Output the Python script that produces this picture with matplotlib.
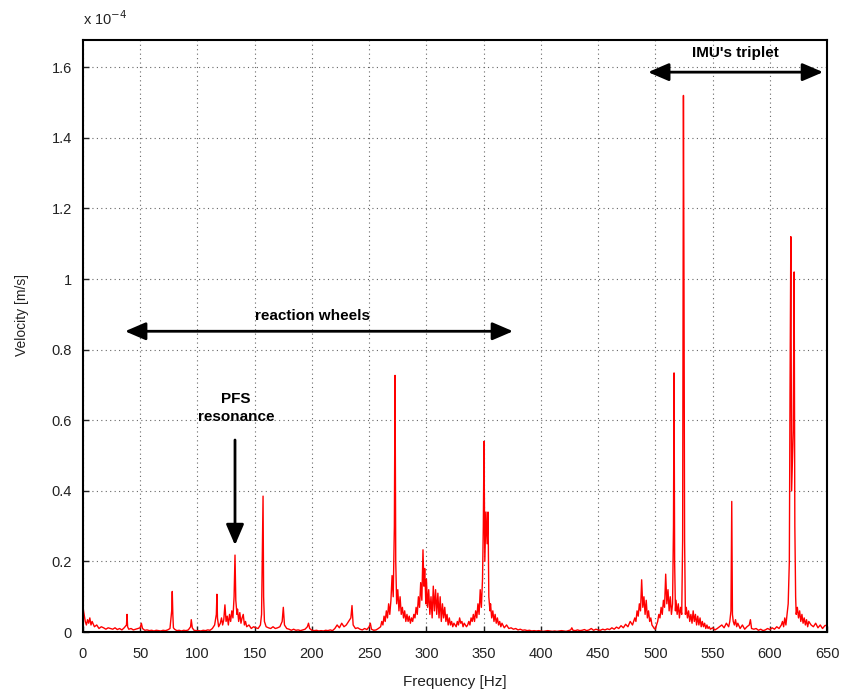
import matplotlib
matplotlib.use("Agg")
from matplotlib import pyplot as plt

# spectrum, velocity in units of 1e-4 m/s
freq_hz = [
    0, 1, 2, 3, 4, 5, 6, 7, 8, 10, 12, 14, 16, 18, 20, 22, 24, 26, 28, 30,
    32, 34, 36, 38, 38.5, 39, 40, 42, 44, 46, 48, 50, 51, 52, 54, 56, 58, 60, 62, 64,
    66, 68, 70, 72, 74, 76, 77.5, 78, 78.5, 79, 80, 82, 84, 86, 88, 90, 92, 94, 94.6, 95.5,
    97, 99, 101, 103, 105, 107, 109, 111, 113, 115, 116.5, 117, 117.5, 118.5, 120, 121, 122, 123, 124, 125,
    126, 127, 128, 129, 130, 131, 132, 132.8, 133.5, 134.5, 135, 136, 137, 138, 139, 140, 141, 142, 143, 145,
    147, 149, 151, 153, 155, 156, 156.8, 157.3, 157.8, 158.5, 160, 162, 164, 166, 168, 170, 172, 174, 175, 176,
    178, 180, 182, 184, 186, 188, 190, 192, 194, 196, 197, 198, 200, 202, 204, 206, 208, 210, 212, 214,
    216, 218, 220, 222, 224, 226, 228, 230, 232, 234, 235, 236, 238, 240, 242, 244, 246, 248, 250, 251,
    252, 254, 256, 258, 260, 261, 262, 263, 264, 265, 266, 267, 268, 269, 270, 271, 272, 272.6, 273.2, 274,
    275, 276, 277, 278, 279, 280, 281, 282, 283, 284, 285, 286, 287, 288, 289, 290, 291, 292, 293, 294,
    295, 296, 297, 297.8, 298.5, 299.5, 300, 301, 302, 303, 304, 305, 306, 307, 308, 309, 310, 311, 312, 313,
    314, 315, 316, 317, 318, 319, 320, 321, 322, 323, 324, 325, 326, 327, 328, 329, 330, 331, 332, 333,
    334, 335, 336, 337, 338, 339, 340, 341, 342, 343, 344, 345, 346, 347, 348, 349, 349.7, 350.3, 351, 352,
    353, 353.8, 354.5, 355.5, 356, 357, 358, 359, 360, 361, 362, 363, 364, 365, 366, 368, 370, 372, 374, 376,
    378, 380, 382, 384, 386, 388, 390, 392, 394, 396, 398, 400, 402, 404, 406, 408, 410, 412, 414, 416,
    418, 420, 422, 424, 426, 427, 428, 430, 432, 434, 436, 438, 440, 442, 444, 446, 448, 450, 452, 454,
    456, 458, 460, 462, 464, 466, 468, 470, 472, 474, 476, 478, 480, 482, 483, 484, 485, 486, 487, 488,
    489, 490, 491, 492, 493, 494, 495, 496, 497, 498, 499, 500, 501, 502, 503, 504, 505, 506, 507, 508,
    509, 510, 511, 512, 513, 514, 515, 515.8, 516.3, 516.8, 517.5, 518, 519, 520, 521, 522, 523, 523.8, 524.5, 525,
    525.5, 526.2, 527, 528, 529, 530, 531, 532, 533, 534, 535, 536, 537, 538, 539, 540, 541, 542, 543, 544,
    545, 546, 547, 548, 550, 552, 554, 556, 558, 560, 562, 564, 565, 566, 566.7, 567.3, 568, 569, 570, 571,
    572, 574, 576, 578, 580, 582, 583, 584, 586, 588, 590, 592, 594, 596, 598, 600, 602, 604, 606, 608,
    610, 611, 612, 613, 614, 615, 616, 617, 617.6, 618.3, 619, 620.4, 621.2, 621.8, 622.5, 623, 624, 625, 626, 627,
    628, 629, 630, 631, 632, 633, 634, 636, 638, 640, 642, 644, 646, 648, 650,
]
velocity = [
    0.07, 0.05, 0.03, 0.02, 0.035, 0.025, 0.04, 0.02, 0.03, 0.015, 0.02, 0.01, 0.015, 0.012, 0.008, 0.012, 0.01, 0.008, 0.012, 0.007,
    0.01, 0.006, 0.012, 0.02, 0.05, 0.015, 0.008, 0.01, 0.006, 0.008, 0.01, 0.012, 0.025, 0.01, 0.005, 0.006, 0.004, 0.005, 0.003, 0.005,
    0.004, 0.003, 0.005, 0.004, 0.006, 0.01, 0.06, 0.115, 0.05, 0.012, 0.008, 0.004, 0.005, 0.003, 0.005, 0.004, 0.006, 0.015, 0.035, 0.012,
    0.005, 0.004, 0.004, 0.003, 0.005, 0.004, 0.006, 0.005, 0.01, 0.02, 0.05, 0.107, 0.04, 0.015, 0.025, 0.04, 0.02, 0.035, 0.077, 0.03,
    0.045, 0.02, 0.05, 0.03, 0.06, 0.04, 0.1, 0.218, 0.09, 0.05, 0.065, 0.03, 0.055, 0.025, 0.04, 0.05, 0.02, 0.03, 0.015, 0.02,
    0.01, 0.015, 0.012, 0.01, 0.02, 0.05, 0.26, 0.385, 0.1, 0.03, 0.015, 0.012, 0.01, 0.015, 0.01, 0.012, 0.015, 0.03, 0.07, 0.02,
    0.01, 0.008, 0.005, 0.008, 0.005, 0.006, 0.004, 0.006, 0.008, 0.015, 0.025, 0.01, 0.005, 0.004, 0.005, 0.003, 0.004, 0.003, 0.005, 0.004,
    0.006, 0.004, 0.01, 0.02, 0.012, 0.025, 0.015, 0.02, 0.03, 0.04, 0.075, 0.02, 0.01, 0.012, 0.008, 0.006, 0.01, 0.007, 0.015, 0.025,
    0.008, 0.005, 0.006, 0.01, 0.015, 0.03, 0.02, 0.045, 0.03, 0.06, 0.04, 0.08, 0.05, 0.09, 0.16, 0.1, 0.3, 0.727, 0.2, 0.08,
    0.12, 0.06, 0.1, 0.05, 0.07, 0.04, 0.06, 0.03, 0.05, 0.03, 0.045, 0.025, 0.04, 0.03, 0.05, 0.04, 0.07, 0.05, 0.1, 0.07,
    0.14, 0.09, 0.233, 0.13, 0.18, 0.08, 0.15, 0.07, 0.12, 0.05, 0.1, 0.04, 0.13, 0.06, 0.12, 0.05, 0.11, 0.04, 0.1, 0.03,
    0.08, 0.04, 0.07, 0.03, 0.05, 0.02, 0.04, 0.02, 0.03, 0.015, 0.025, 0.02, 0.015, 0.03, 0.02, 0.04, 0.025, 0.03, 0.015, 0.025,
    0.02, 0.015, 0.02, 0.03, 0.02, 0.04, 0.03, 0.05, 0.03, 0.06, 0.04, 0.08, 0.05, 0.12, 0.07, 0.15, 0.3, 0.54, 0.2, 0.34,
    0.25, 0.34, 0.1, 0.06, 0.08, 0.04, 0.06, 0.03, 0.05, 0.025, 0.04, 0.02, 0.03, 0.015, 0.025, 0.012, 0.02, 0.01, 0.012, 0.008,
    0.01, 0.006, 0.008, 0.005, 0.006, 0.004, 0.005, 0.003, 0.004, 0.003, 0.004, 0.003, 0.002, 0.003, 0.004, 0.003, 0.002, 0.003, 0.002, 0.003,
    0.004, 0.003, 0.002, 0.004, 0.006, 0.012, 0.005, 0.004, 0.006, 0.004, 0.005, 0.007, 0.004, 0.006, 0.01, 0.005, 0.008, 0.006, 0.005, 0.008,
    0.006, 0.009, 0.007, 0.012, 0.008, 0.014, 0.01, 0.018, 0.012, 0.022, 0.015, 0.03, 0.02, 0.04, 0.03, 0.06, 0.045, 0.08, 0.06, 0.148,
    0.07, 0.1, 0.05, 0.09, 0.04, 0.06, 0.03, 0.04, 0.02, 0.015, 0.01, 0.008, 0.02, 0.03, 0.05, 0.04, 0.07, 0.05, 0.09, 0.07,
    0.164, 0.08, 0.12, 0.06, 0.1, 0.05, 0.08, 0.3, 0.734, 0.2, 0.06, 0.09, 0.05, 0.08, 0.04, 0.07, 0.05, 0.26, 1.52, 0.957,
    0.26, 0.05, 0.07, 0.04, 0.06, 0.03, 0.05, 0.025, 0.06, 0.03, 0.05, 0.02, 0.045, 0.02, 0.04, 0.015, 0.03, 0.015, 0.025, 0.01,
    0.02, 0.01, 0.015, 0.008, 0.012, 0.006, 0.01, 0.015, 0.02, 0.012, 0.025, 0.015, 0.03, 0.06, 0.37, 0.05, 0.03, 0.02, 0.035, 0.015,
    0.025, 0.01, 0.02, 0.008, 0.015, 0.02, 0.035, 0.01, 0.008, 0.01, 0.005, 0.008, 0.004, 0.006, 0.01, 0.007, 0.012, 0.008, 0.015, 0.01,
    0.02, 0.03, 0.015, 0.04, 0.02, 0.05, 0.08, 0.2, 0.68, 1.12, 0.4, 0.57, 1.02, 0.3, 0.1, 0.05, 0.07, 0.04, 0.06, 0.03,
    0.05, 0.025, 0.04, 0.02, 0.035, 0.015, 0.03, 0.02, 0.015, 0.025, 0.012, 0.02, 0.01, 0.018, 0.02,
]

x_ticks = [0, 50, 100, 150, 200, 250, 300, 350, 400, 450, 500, 550, 600, 650]
y_ticks = [0, 0.2, 0.4, 0.6, 0.8, 1.0, 1.2, 1.4, 1.6]
y_ticklabels = ["0", "0.2", "0.4", "0.6", "0.8", "1", "1.2", "1.4", "1.6"]

plt.rcParams["font.family"] = ["Liberation Sans", "DejaVu Sans"]

fig = plt.figure(figsize=(8.44, 6.9), dpi=100)
ax = fig.add_axes([0.0983, 0.084, 0.8817, 0.858])

ax.plot(freq_hz, velocity, color="#ff0000", lw=1.0)

ax.set_xlim(0, 650)
ax.set_ylim(0, 1.677)
ax.set_xticks(x_ticks)
ax.set_yticks(y_ticks)
ax.set_yticklabels(y_ticklabels)
ax.tick_params(direction="in", length=4, width=1, labelsize=10.5, colors="#222222", pad=8)
ax.tick_params(axis="x", pad=11)
ax.grid(True, color="#666666", linestyle=(0, (1, 3)), lw=0.8)
for s in ax.spines.values():
    s.set_linewidth(1.5)

ax.set_xlabel("Frequency [Hz]", fontsize=11, color="#222222", labelpad=10)
ax.set_ylabel("Velocity [m/s]", fontsize=10, color="#222222")
ax.yaxis.set_label_coords(-0.072, 0.535)
ax.text(0, 1.025, r"x 10$^{-4}$", transform=ax.transAxes, fontsize=10.5, color="#222222")

arrow = dict(arrowstyle="<|-|>,head_length=0.7,head_width=0.3", color="black", lw=2, shrinkA=0, shrinkB=0,
             mutation_scale=18)
ax.annotate("", xy=(36.7, 0.852), xytext=(375.7, 0.852), arrowprops=arrow)
ax.text(200.5, 0.895, "reaction wheels", ha="center", va="center", fontsize=11, fontweight="bold")

ax.annotate("", xy=(493.6, 1.586), xytext=(646.5, 1.586), arrowprops=arrow)
ax.text(569.6, 1.64, "IMU's triplet", ha="center", va="center", fontsize=11, fontweight="bold")

ax.annotate("", xy=(132.8, 0.246), xytext=(132.8, 0.544),
            arrowprops=dict(arrowstyle="-|>,head_length=0.7,head_width=0.3", color="black", lw=2,
                            shrinkA=0, shrinkB=0, mutation_scale=18))
ax.text(133.5, 0.635, "PFS\nresonance", ha="center", va="center", fontsize=11, fontweight="bold",
        linespacing=1.35)

fig.savefig("out.png", dpi=100)
